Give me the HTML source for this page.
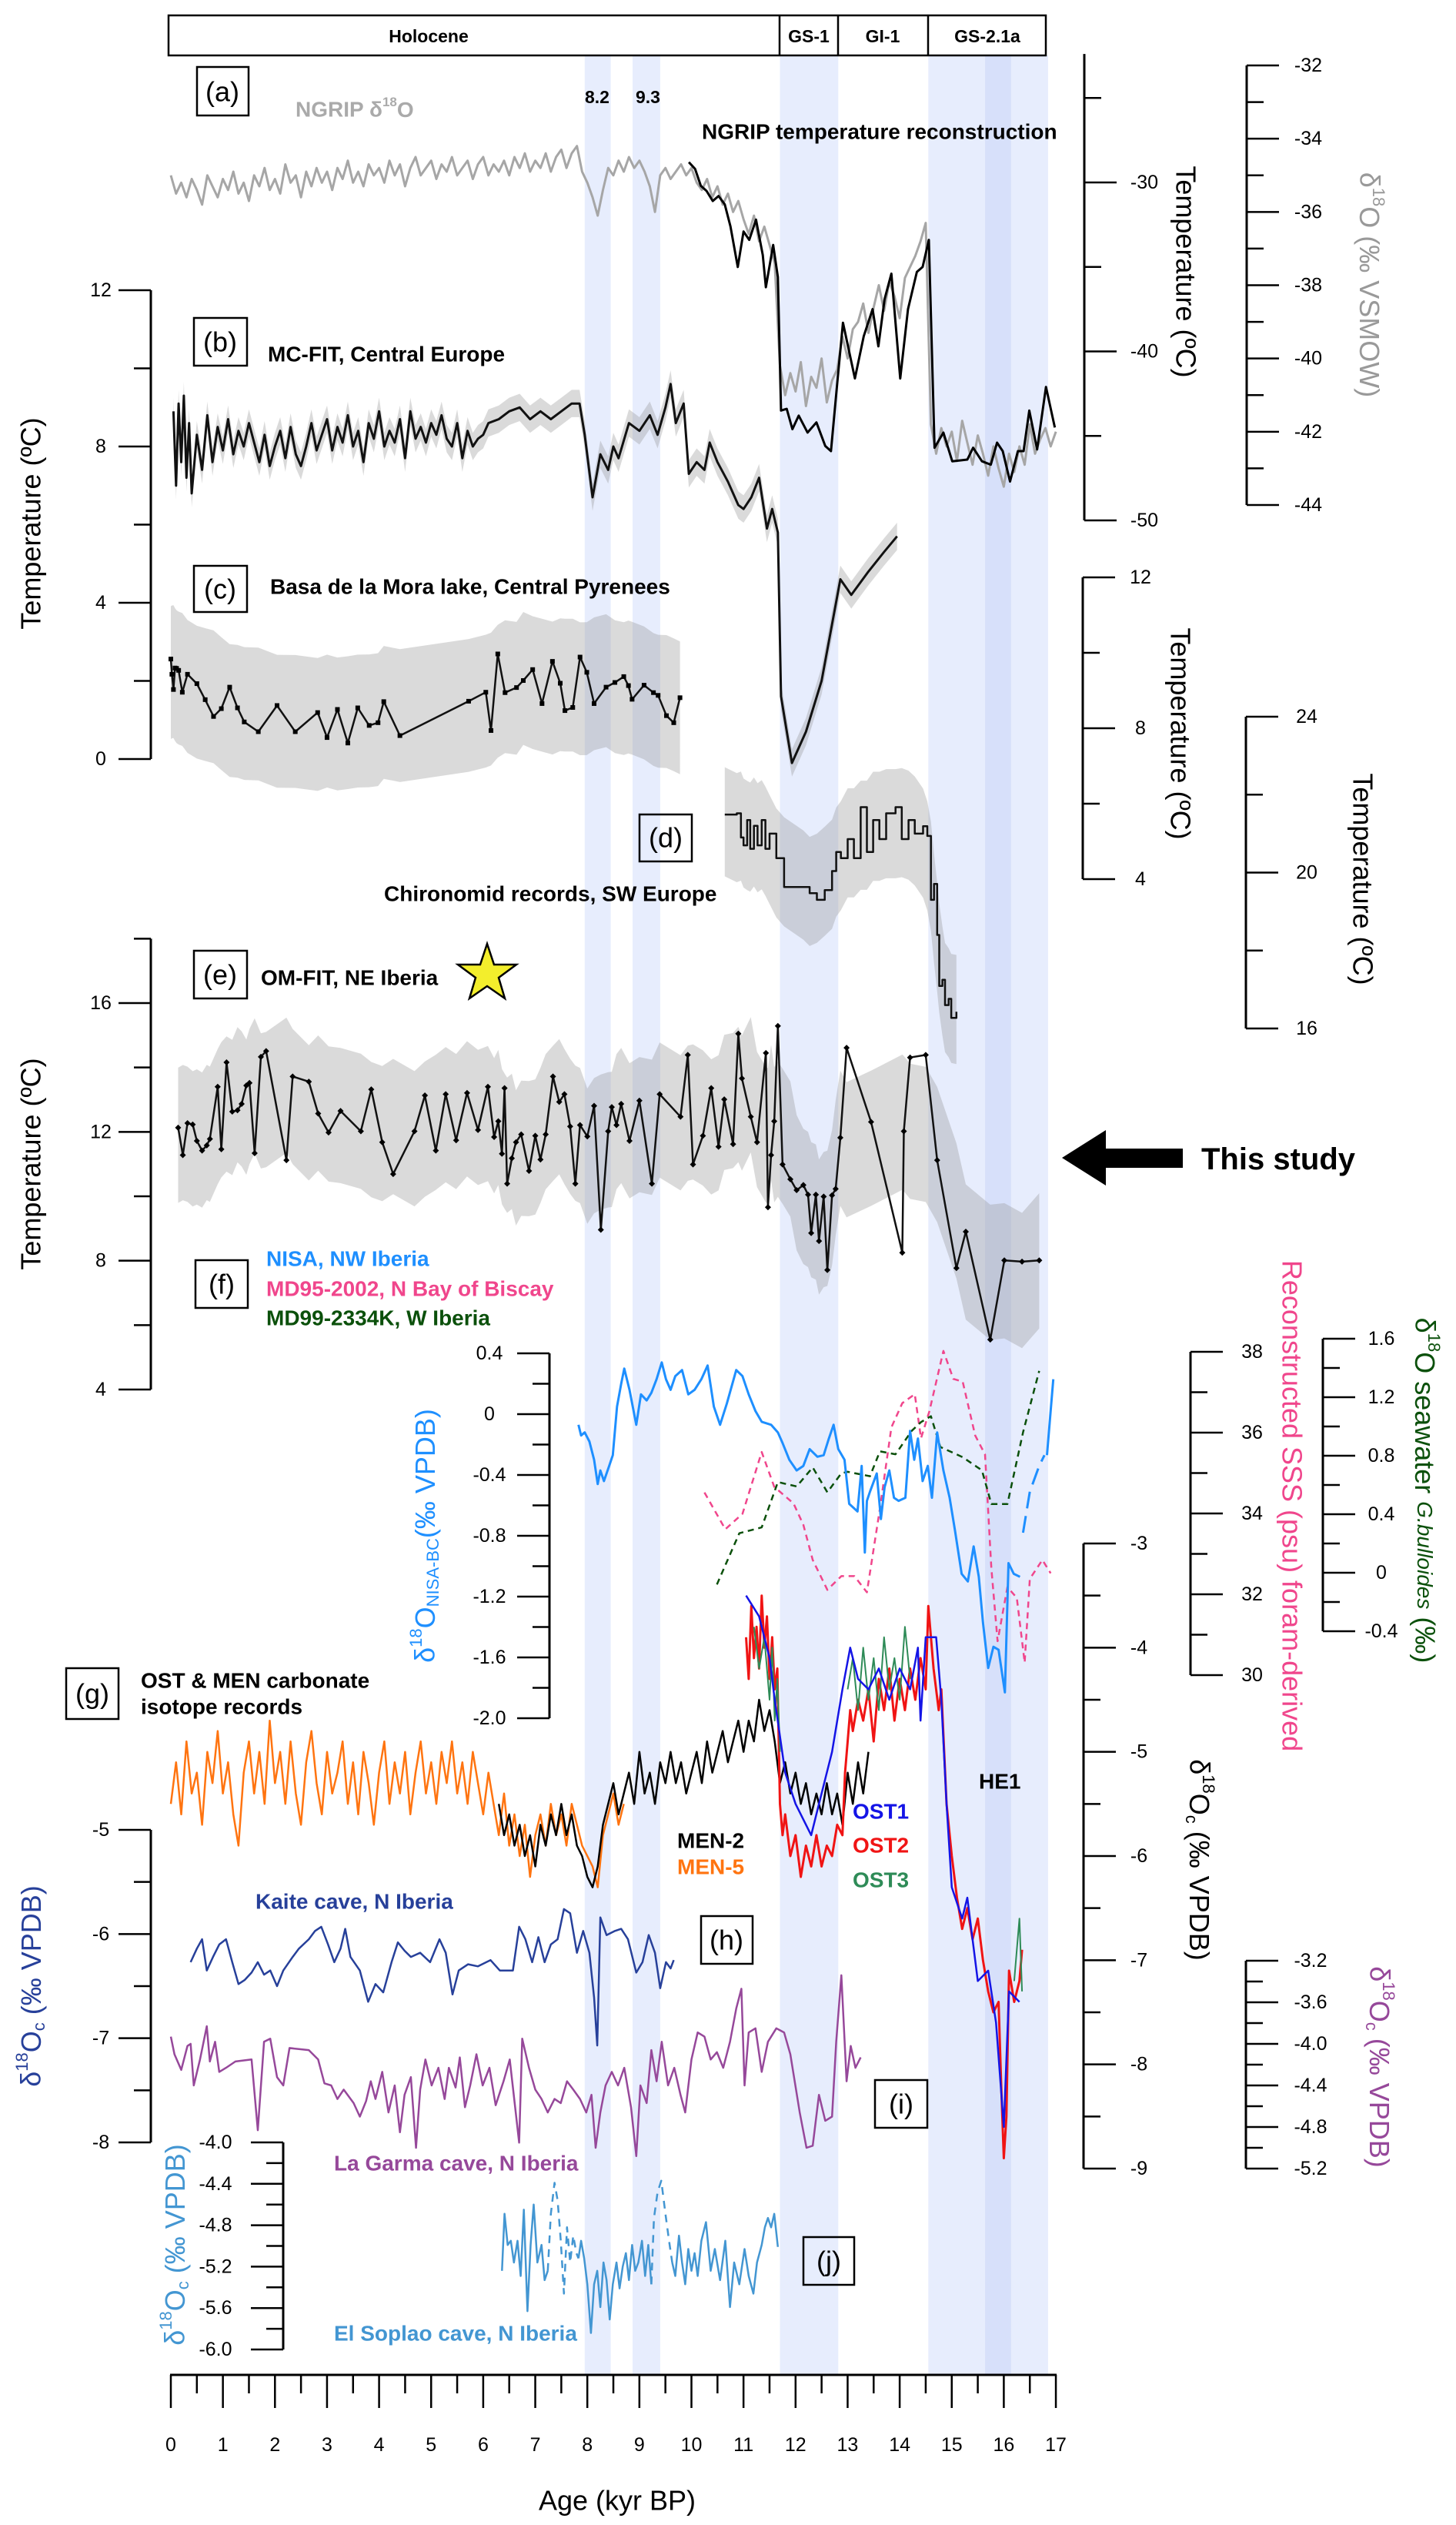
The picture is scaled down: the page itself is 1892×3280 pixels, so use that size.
<!DOCTYPE html>
<html><head><meta charset="utf-8"><style>
html,body{margin:0;padding:0;background:#fff;}
svg{display:block;font-family:"Liberation Sans",Arial,sans-serif;}
.tk{font-size:25px;fill:#000;}
.ttl{font-size:36px;}
.bl{font-size:28px;font-weight:bold;}
.sb{font-size:23px;font-weight:bold;}
.pl{font-size:36px;}
</style></head><body>
<svg id="chart" xmlns="http://www.w3.org/2000/svg" width="1892" height="3280" viewBox="0 0 1892 3280">
<g id="bg"></g>
<g id="series"></g>
<g id="axes"></g>
<g id="labels">
<rect x="219" y="20" width="1140" height="52" fill="#fff" stroke="#000" stroke-width="2.5"/>
<line x1="1013" y1="20" x2="1013" y2="72" stroke="#000" stroke-width="2.5"/>
<line x1="1089" y1="20" x2="1089" y2="72" stroke="#000" stroke-width="2.5"/>
<line x1="1206" y1="20" x2="1206" y2="72" stroke="#000" stroke-width="2.5"/>
<text x="557" y="47" class="sb" text-anchor="middle" dominant-baseline="central">Holocene</text>
<text x="1051" y="47" class="sb" text-anchor="middle" dominant-baseline="central">GS-1</text>
<text x="1147" y="47" class="sb" text-anchor="middle" dominant-baseline="central">GI-1</text>
<text x="1283" y="47" class="sb" text-anchor="middle" dominant-baseline="central">GS-2.1a</text>

<rect x="256" y="87" width="67" height="63" fill="none" stroke="#000" stroke-width="2.5"/>
<text x="289" y="119" class="pl" text-anchor="middle" dominant-baseline="central">(a)</text>
<text x="384" y="142" class="bl" fill="#aaa" dominant-baseline="central">NGRIP δ<tspan dy="-10" font-size="17">18</tspan><tspan dy="10">O</tspan></text>
<text x="760" y="126" class="sb" font-size="25" dominant-baseline="central">8.2</text>
<text x="826" y="126" class="sb" font-size="25" dominant-baseline="central">9.3</text>
<text x="912" y="171" class="bl" font-size="27" dominant-baseline="central">NGRIP temperature reconstruction</text>

<rect x="252" y="413" width="69" height="62" fill="none" stroke="#000" stroke-width="2.5"/>
<text x="286" y="444" class="pl" text-anchor="middle" dominant-baseline="central">(b)</text>
<text x="348" y="460" class="bl" dominant-baseline="central">MC-FIT, Central Europe</text>

<rect x="252" y="735" width="69" height="60" fill="none" stroke="#000" stroke-width="2.5"/>
<text x="286" y="765" class="pl" text-anchor="middle" dominant-baseline="central">(c)</text>
<text x="351" y="762" class="bl" dominant-baseline="central">Basa de la Mora lake, Central Pyrenees</text>

<rect x="831" y="1058" width="68" height="61" fill="none" stroke="#000" stroke-width="2.5"/>
<text x="865" y="1088" class="pl" text-anchor="middle" dominant-baseline="central">(d)</text>
<text x="499" y="1161" class="bl" dominant-baseline="central">Chironomid records, SW Europe</text>

<rect x="252" y="1235" width="69" height="62" fill="none" stroke="#000" stroke-width="2.5"/>
<text x="286" y="1266" class="pl" text-anchor="middle" dominant-baseline="central">(e)</text>
<text x="339" y="1270" class="bl" font-size="31" dominant-baseline="central">OM-FIT, NE Iberia</text>
<polygon points="633,1226 642,1253 671,1253 648,1270 656,1297 633,1281 610,1297 618,1270 595,1253 624,1253" fill="#f3ee2c" stroke="#000" stroke-width="2.5"/>

<polygon points="1380,1504 1437,1468 1437,1492 1537,1492 1537,1517 1437,1517 1437,1540" fill="#000"/>
<text x="1561" y="1506" font-size="40" font-weight="bold" dominant-baseline="central">This study</text>

<rect x="254" y="1637" width="68" height="62" fill="none" stroke="#000" stroke-width="2.5"/>
<text x="288" y="1668" class="pl" text-anchor="middle" dominant-baseline="central">(f)</text>
<text x="346" y="1635" class="bl" fill="#1e8fff" dominant-baseline="central">NISA, NW Iberia</text>
<text x="346" y="1674" class="bl" fill="#f0468c" dominant-baseline="central">MD95-2002, N Bay of Biscay</text>
<text x="346" y="1712" class="bl" fill="#0b500b" dominant-baseline="central">MD99-2334K, W Iberia</text>

<rect x="86" y="2167" width="68" height="66" fill="none" stroke="#000" stroke-width="2.5"/>
<text x="120" y="2200" class="pl" text-anchor="middle" dominant-baseline="central">(g)</text>
<text x="183" y="2183" class="bl" dominant-baseline="central">OST &amp; MEN carbonate</text>
<text x="183" y="2217" class="bl" dominant-baseline="central">isotope records</text>
<text x="880" y="2391" class="bl" dominant-baseline="central">MEN-2</text>
<text x="880" y="2425" class="bl" fill="#ff7410" dominant-baseline="central">MEN-5</text>
<text x="1108" y="2353" class="bl" fill="#1414e6" dominant-baseline="central">OST1</text>
<text x="1108" y="2397" class="bl" fill="#f01414" dominant-baseline="central">OST2</text>
<text x="1108" y="2442" class="bl" fill="#2e8b57" dominant-baseline="central">OST3</text>
<text x="1272" y="2314" class="bl" dominant-baseline="central">HE1</text>

<text x="332" y="2470" class="bl" fill="#27409a" dominant-baseline="central">Kaite cave, N Iberia</text>
<rect x="911" y="2489" width="67" height="62" fill="none" stroke="#000" stroke-width="2.5"/>
<text x="944" y="2520" class="pl" text-anchor="middle" dominant-baseline="central">(h)</text>
<rect x="1137" y="2702" width="68" height="62" fill="none" stroke="#000" stroke-width="2.5"/>
<text x="1171" y="2733" class="pl" text-anchor="middle" dominant-baseline="central">(i)</text>
<text x="434" y="2810" class="bl" fill="#96489a" dominant-baseline="central">La Garma cave, N Iberia</text>
<rect x="1044" y="2906" width="66" height="62" fill="none" stroke="#000" stroke-width="2.5"/>
<text x="1077" y="2937" class="pl" text-anchor="middle" dominant-baseline="central">(j)</text>
<text x="434" y="3031" class="bl" fill="#4396d2" dominant-baseline="central">El Soplao cave, N Iberia</text>

<text x="802" y="3248" class="ttl" text-anchor="middle" dominant-baseline="central">Age (kyr BP)</text>

<text transform="translate(40,680) rotate(-90)" class="ttl" text-anchor="middle" dominant-baseline="central">Temperature (ºC)</text>
<text transform="translate(40,1512) rotate(-90)" class="ttl" text-anchor="middle" dominant-baseline="central">Temperature (ºC)</text>
<text transform="translate(40,2580) rotate(-90)" class="ttl" fill="#27409a" text-anchor="middle" dominant-baseline="central">δ<tspan dy="-12" font-size="22">18</tspan><tspan dy="12">O</tspan><tspan dy="10" font-size="22">c</tspan><tspan dy="-10"> (‰ VPDB)</tspan></text>
<text transform="translate(227,2916) rotate(-90)" class="ttl" fill="#4396d2" text-anchor="middle" dominant-baseline="central">δ<tspan dy="-12" font-size="22">18</tspan><tspan dy="12">O</tspan><tspan dy="10" font-size="22">c</tspan><tspan dy="-10"> (‰ VPDB)</tspan></text>
<text transform="translate(552,1995) rotate(-90)" class="ttl" fill="#1e8fff" text-anchor="middle" dominant-baseline="central">δ<tspan dy="-12" font-size="22">18</tspan><tspan dy="12">O</tspan><tspan dy="10" font-size="22">NISA-BC</tspan><tspan dy="-10">(‰ VPDB)</tspan></text>

<text transform="translate(1541,353) rotate(90)" class="ttl" text-anchor="middle" dominant-baseline="central">Temperature (ºC)</text>
<text transform="translate(1780,370) rotate(90)" class="ttl" fill="#999" text-anchor="middle" dominant-baseline="central">δ<tspan dy="-12" font-size="22">18</tspan><tspan dy="12">O (‰ VSMOW)</tspan></text>
<text transform="translate(1534,953) rotate(90)" class="ttl" text-anchor="middle" dominant-baseline="central">Temperature (ºC)</text>
<text transform="translate(1771,1142) rotate(90)" class="ttl" text-anchor="middle" dominant-baseline="central">Temperature (ºC)</text>
<text transform="translate(1679,1956) rotate(90)" class="ttl" fill="#f0468c" text-anchor="middle" dominant-baseline="central">Reconstructed SSS (psu) foram-derived</text>
<text transform="translate(1852,1936) rotate(90)" class="ttl" fill="#0b500b" text-anchor="middle" dominant-baseline="central">δ<tspan dy="-12" font-size="22">18</tspan><tspan dy="12">O seawater </tspan><tspan font-style="italic" font-size="28">G.bulloides</tspan> (‰)</text>
<text transform="translate(1559,2416) rotate(90)" class="ttl" text-anchor="middle" dominant-baseline="central">δ<tspan dy="-12" font-size="22">18</tspan><tspan dy="12">O</tspan><tspan dy="10" font-size="22">c</tspan><tspan dy="-10"> (‰ VPDB)</tspan></text>
<text transform="translate(1793,2685) rotate(90)" class="ttl" fill="#96489a" text-anchor="middle" dominant-baseline="central">δ<tspan dy="-12" font-size="22">18</tspan><tspan dy="12">O</tspan><tspan dy="10" font-size="22">c</tspan><tspan dy="-10"> (‰ VPDB)</tspan></text>
</g>
</svg>
<script>
// ---------------- DATA ----------------
const bandStart=[7.95,8.87,11.7,14.55];
const bandEnd=[8.45,9.4,12.82,16.85];
const darkBandStart=[15.64];
const darkBandEnd=[16.14];

const ngripD18oStart=0, ngripD18oStep=0.1;
const ngripD18o=[-35.0,-35.5,-35.2,-35.6,-35.1,-35.4,-35.8,-35.0,-35.3,-35.6,
-35.1,-35.4,-34.9,-35.5,-35.2,-35.7,-35.0,-35.3,-34.8,-35.4,
-35.1,-35.5,-34.7,-35.2,-35.0,-35.6,-34.9,-35.3,-34.8,-35.2,
-34.9,-35.4,-34.8,-35.1,-34.6,-35.2,-34.9,-35.3,-34.7,-35.0,
-34.8,-35.2,-34.6,-35.0,-34.7,-35.3,-34.8,-34.5,-35.0,-34.8,
-34.6,-35.1,-34.7,-34.9,-34.5,-35.0,-34.8,-34.6,-35.1,-34.7,
-34.5,-35.0,-34.7,-34.9,-34.6,-35.0,-34.5,-34.8,-34.4,-34.9,
-34.6,-34.8,-34.4,-34.9,-34.5,-34.3,-34.8,-34.4,-34.2,-34.9,
-35.2,-35.6,-36.1,-35.4,-34.8,-35.0,-34.6,-34.9,-34.5,-34.8,
-34.6,-34.9,-35.3,-36.0,-35.0,-34.8,-35.1,-34.9,-34.7,-35.0,
-34.8,-35.2,-35.4,-35.1,-35.6,-35.3,-35.8,-35.5,-36.0,-35.7,
-36.2,-36.6,-36.1,-36.8,-36.4,-36.9,-37.4,
-40.2,-41.0,-40.4,-40.9,-40.1,-41.3,-40.5,-40.8,-40.0,-41.2,-40.6,-40.3,
-39.4,-40.0,-39.2,-39.0,-38.5,-39.3,-38.6,-38.0,-38.7,-37.9,-38.3,-38.9,-37.8,-37.5,-37.2,-36.8,-36.3,
-41.8,-42.6,-41.9,-42.4,-42.0,-42.8,-41.7,-42.3,-42.9,-42.1,-42.6,-43.2,-42.4,-43.0,-43.5,-42.6,-43.1,-42.4,-42.9,-41.8,-42.6,-42.2,-41.9,-42.4,-42.0];

const ngripTAge=[9.95,10.07,10.18,10.29,10.41,10.52,10.64,10.75,10.89,11.0,11.11,11.24,11.37,11.43,11.57,11.66,11.72,11.83,11.94,12.06,12.23,12.40,12.57,12.68,12.80,12.91,13.14,13.31,13.48,13.59,13.71,13.84,14.01,14.16,14.33,14.44,14.56,14.67,14.84,15.01,15.30,15.41,15.58,15.75,15.87,15.98,16.12,16.27,16.38,16.49,16.64,16.81,16.98];
const ngripT=[-28.8,-29.2,-30.2,-30.5,-31.1,-30.8,-31.3,-32.6,-35.0,-32.9,-33.4,-32.2,-34.3,-36.2,-33.7,-35.6,-43.5,-43.4,-44.6,-43.8,-44.8,-44.2,-45.6,-45.9,-41.9,-38.3,-41.6,-39.1,-37.5,-39.7,-36.9,-35.4,-41.6,-37.5,-35.3,-35.0,-33.4,-45.7,-44.8,-46.5,-46.4,-45.7,-46.5,-46.7,-45.4,-45.9,-47.7,-45.9,-45.9,-43.5,-45.8,-42.1,-44.5];

const mcAge=[0.05,0.1,0.15,0.2,0.25,0.3,0.35,0.4,0.5,0.6,0.7,0.8,0.9,1.0,1.1,1.2,1.3,1.4,1.5,1.6,1.7,1.8,1.9,2.0,2.1,2.2,2.3,2.4,2.5,2.6,2.7,2.8,2.9,3.0,3.1,3.2,3.3,3.4,3.5,3.6,3.7,3.8,3.9,4.0,4.1,4.2,4.3,4.4,4.5,4.6,4.7,4.8,4.9,5.0,5.1,5.2,5.3,5.4,5.5,5.6,5.7,5.8,5.9,6.0,6.1,6.3,6.5,6.7,6.9,7.1,7.3,7.5,7.7,7.85,7.95,8.1,8.25,8.4,8.5,8.6,8.8,9.0,9.2,9.35,9.5,9.6,9.7,9.85,9.95,10.1,10.25,10.35,10.5,10.7,10.9,11.0,11.15,11.3,11.45,11.55,11.66,11.72,11.93,12.2,12.5,12.86,13.07,13.4,13.7,13.95];
const mcVal=[8.9,7.0,9.1,7.6,9.3,7.2,8.6,6.8,8.3,7.4,8.8,7.6,8.5,7.9,8.7,7.8,8.4,8.0,8.6,8.1,7.6,8.3,7.5,8.0,8.4,7.7,8.5,7.8,7.5,8.0,8.6,7.9,8.3,8.7,7.9,8.5,8.1,8.8,8.0,8.4,7.6,8.6,8.2,8.9,8.0,8.4,8.1,8.7,7.7,8.9,8.2,8.5,8.1,8.6,8.3,8.8,8.2,8.0,8.6,7.7,8.4,8.0,8.2,8.3,8.6,8.7,8.9,9.0,8.7,8.9,8.7,8.9,9.1,9.1,8.3,6.7,7.8,7.4,8.0,7.7,8.6,8.4,8.8,8.3,9.0,9.6,8.6,9.1,7.3,7.6,7.4,8.1,7.6,7.1,6.5,6.4,6.7,7.2,5.9,6.4,5.8,1.6,-0.1,0.7,2.0,4.6,4.2,4.8,5.3,5.7];

const basaAge=[0.0,0.02,0.05,0.08,0.11,0.15,0.22,0.32,0.5,0.66,0.82,0.97,1.13,1.28,1.41,1.68,2.04,2.39,2.82,3.0,3.2,3.4,3.59,3.81,3.98,4.09,4.4,5.72,6.05,6.15,6.28,6.42,6.64,6.77,6.95,7.13,7.33,7.48,7.57,7.72,7.86,7.99,8.13,8.36,8.53,8.7,8.79,8.86,9.09,9.27,9.36,9.52,9.66,9.78];
const basaVal=[2.56,2.17,1.78,2.33,2.32,2.27,1.71,2.17,1.93,1.52,1.09,1.29,1.84,1.31,0.95,0.7,1.37,0.7,1.19,0.55,1.27,0.41,1.31,0.86,0.93,1.47,0.6,1.48,1.71,0.73,2.69,1.7,1.83,2.01,2.29,1.42,2.5,1.94,1.24,1.32,2.61,2.22,1.42,1.84,1.96,2.11,1.88,1.53,1.89,1.7,1.63,1.11,0.93,1.57];

const chiroAge=[10.64,10.87,10.95,11.0,11.07,11.13,11.2,11.27,11.35,11.42,11.5,11.63,11.78,12.15,12.27,12.41,12.56,12.7,12.78,12.87,13.0,13.12,13.25,13.37,13.49,13.61,13.74,13.92,14.04,14.17,14.29,14.45,14.53,14.6,14.66,14.72,14.76,14.82,14.87,14.94,14.99,15.09];
const chiroVal=[21.49,21.52,20.9,20.7,21.35,20.61,21.2,20.7,21.35,20.61,21.0,20.37,19.63,19.63,19.47,19.30,19.55,20.04,20.53,20.37,20.86,20.37,21.68,20.53,21.35,20.86,21.52,21.68,20.86,21.35,21.0,21.19,20.94,19.30,19.71,18.40,17.09,17.25,16.6,16.76,16.27,16.43];

const omAge=[0.14,0.23,0.32,0.42,0.5,0.6,0.69,0.75,0.9,0.97,1.07,1.18,1.28,1.36,1.45,1.51,1.61,1.73,1.83,2.22,2.34,2.65,2.83,3.03,3.26,3.65,3.85,4.06,4.27,4.68,4.88,5.09,5.28,5.48,5.69,5.9,6.09,6.21,6.29,6.36,6.41,6.46,6.55,6.63,6.73,6.88,7.0,7.1,7.2,7.34,7.46,7.56,7.67,7.77,7.86,8.0,8.13,8.26,8.4,8.47,8.56,8.65,8.81,9.0,9.24,9.39,9.79,9.93,10.03,10.22,10.38,10.52,10.63,10.8,10.9,10.97,11.14,11.26,11.43,11.47,11.53,11.59,11.66,11.75,11.9,12.02,12.15,12.24,12.3,12.39,12.45,12.54,12.61,12.7,12.77,12.86,12.98,13.45,14.05,14.08,14.2,14.5,14.72,15.09,15.27,15.74,16.01,16.35,16.68];
const omVal=[12.13,11.28,12.27,12.23,11.72,11.42,11.58,11.78,13.40,11.46,14.16,12.63,12.67,12.87,13.44,13.52,11.34,14.33,14.51,11.12,13.72,13.56,12.57,11.98,12.65,12.02,13.32,11.68,10.69,12.02,13.13,11.42,13.17,11.74,13.21,12.06,13.40,11.84,12.33,11.32,13.36,10.39,11.18,11.68,11.92,10.79,11.88,11.14,11.92,13.72,12.93,13.17,12.17,10.39,12.21,11.86,12.81,8.96,12.02,12.77,12.21,12.87,11.72,12.97,10.39,13.17,12.47,14.39,10.99,11.88,13.36,11.54,13.01,11.62,15.05,13.66,12.47,11.68,14.45,9.66,11.28,12.33,15.29,10.99,10.53,10.19,10.35,10.05,8.86,10.05,8.61,9.99,7.71,10.03,10.23,11.82,14.61,12.31,8.25,12.02,14.31,14.39,11.12,7.77,8.90,5.55,8.01,7.97,8.01];

const nisaAge=[7.83,7.88,7.95,8.04,8.13,8.2,8.25,8.32,8.42,8.49,8.57,8.65,8.71,8.81,8.94,9.03,9.14,9.23,9.33,9.43,9.51,9.6,9.69,9.82,9.94,10.06,10.19,10.31,10.43,10.55,10.68,10.86,10.98,11.1,11.23,11.35,11.53,11.66,11.75,11.88,12.02,12.15,12.27,12.42,12.54,12.64,12.73,12.82,12.94,13.03,13.19,13.27,13.33,13.37,13.43,13.56,13.64,13.71,13.8,13.89,13.98,14.11,14.2,14.28,14.35,14.44,14.54,14.62,14.72,14.84,14.96,15.06,15.19,15.31,15.42,15.52,15.6,15.7,15.8,15.9,16.02,16.09,16.19,16.31];
const nisaVal=[-0.07,-0.14,-0.12,-0.18,-0.30,-0.46,-0.37,-0.44,-0.34,-0.27,0.05,0.20,0.30,0.16,-0.07,0.13,0.09,0.14,0.23,0.34,0.23,0.16,0.25,0.29,0.13,0.16,0.23,0.32,0.05,-0.07,0.07,0.29,0.25,0.13,0.02,-0.05,-0.07,-0.12,-0.19,-0.30,-0.37,-0.34,-0.23,-0.28,-0.27,-0.16,-0.07,-0.23,-0.30,-0.59,-0.64,-0.34,-0.91,-0.57,-0.51,-0.39,-0.69,-0.48,-0.37,-0.55,-0.57,-0.55,-0.11,-0.30,-0.16,-0.44,-0.34,-0.55,-0.12,-0.37,-0.55,-0.76,-1.05,-1.10,-0.87,-1.07,-1.37,-1.67,-1.53,-1.55,-1.83,-0.98,-1.05,-1.07];
const nisaGapAge=[16.37,16.5,16.68,16.78];
const nisaGapVal=[-0.78,-0.51,-0.34,-0.27];
const nisaEndAge=[16.83,16.95];
const nisaEndVal=[-0.27,0.23];

const md95Age=[10.25,10.65,10.98,11.35,11.59,11.96,12.15,12.33,12.61,12.88,13.13,13.37,13.62,13.84,14.05,14.29,14.41,14.57,14.84,15.03,15.21,15.45,15.64,15.76,15.88,16.07,16.25,16.4,16.5,16.74,16.9];
const md95Sss=[34.52,33.61,33.99,35.52,34.66,34.25,33.72,32.85,32.11,32.45,32.45,32.05,34.12,36.13,36.73,36.95,35.86,36.53,38.02,37.33,37.26,35.93,35.46,32.65,30.84,32.18,31.91,30.31,32.38,32.85,32.52];

const md99Age=[10.49,10.92,11.35,11.66,12.02,12.33,12.61,12.88,13.0,13.43,13.62,13.92,14.23,14.41,14.6,14.78,15.21,15.58,15.76,16.07,16.37,16.68];
const md99Sw=[-0.08,0.27,0.31,0.62,0.59,0.72,0.55,0.68,0.69,0.66,0.83,0.81,0.97,1.03,1.07,0.86,0.79,0.70,0.47,0.47,0.96,1.38];

const men5Start=0, men5Step=0.1;
const men5=[-5.5,-5.1,-5.6,-4.9,-5.4,-5.2,-5.7,-5.0,-5.3,-4.8,-5.4,-5.1,-5.6,-5.9,-5.2,-4.9,-5.4,-5.0,-5.5,-4.7,-5.3,-5.0,-5.5,-4.9,-5.4,-5.7,-5.1,-4.8,-5.3,-5.6,-5.0,-5.4,-5.2,-4.9,-5.5,-5.1,-5.6,-5.0,-5.3,-5.7,-5.2,-4.9,-5.5,-5.1,-5.4,-5.0,-5.6,-5.2,-4.9,-5.4,-5.1,-5.5,-5.0,-5.3,-4.9,-5.4,-5.1,-5.5,-5.0,-5.3,-5.6,-5.2,-5.5,-5.8,-5.4,-5.9,-5.6,-6.0,-5.7,-6.2,-5.8,-5.6,-5.9,-5.5,-5.8,-5.6,-5.9,-5.5,-5.7,-5.9,-6.0,-6.1,-6.3,-5.8,-5.6,-5.4,-5.7,-5.5];
const men2Start=6.3, men2Step=0.1;
const men2=[-5.5,-5.8,-5.6,-5.9,-5.7,-6.0,-5.8,-6.1,-5.7,-5.9,-5.6,-5.8,-5.5,-5.8,-5.6,-5.9,-6.0,-6.2,-6.3,-6.1,-5.7,-5.5,-5.3,-5.6,-5.4,-5.2,-5.5,-5.0,-5.4,-5.2,-5.5,-5.1,-5.3,-5.0,-5.3,-5.1,-5.4,-5.2,-5.0,-5.3,-4.9,-5.2,-5.0,-4.8,-5.1,-4.9,-4.7,-5.0,-4.7,-4.9,-4.5,-4.8,-4.6,-4.9,-5.3,-5.1,-5.4,-5.2,-5.5,-5.3,-5.6,-5.4,-5.6,-5.3,-5.6,-5.4,-5.7,-5.2,-5.5,-5.1,-5.4,-5.0];

const ost2Age=[11.05,11.1,11.15,11.2,11.25,11.3,11.35,11.4,11.45,11.5,11.55,11.6,11.65,11.7,11.75,11.8,11.9,12.0,12.1,12.2,12.3,12.4,12.5,12.6,12.7,12.8,12.9,12.95,13.0,13.05,13.1,13.2,13.3,13.4,13.5,13.6,13.7,13.8,13.9,14.0,14.1,14.2,14.3,14.4,14.5,14.55,14.65,14.75,14.8,14.9,15.0,15.1,15.2,15.3,15.4,15.5,15.6,15.7,15.8,15.9,15.95,16.0,16.05,16.1,16.2,16.3,16.35];
const ost2=[-3.9,-4.3,-3.6,-4.1,-3.8,-4.2,-3.5,-4.0,-3.7,-4.3,-3.9,-4.4,-4.2,-5.5,-5.8,-5.6,-6.0,-5.8,-6.2,-5.9,-6.1,-5.8,-6.1,-5.9,-6.0,-5.7,-5.8,-5.2,-4.9,-4.6,-4.8,-4.5,-4.7,-4.4,-4.9,-4.3,-4.6,-4.2,-4.7,-4.3,-4.6,-4.2,-4.5,-4.1,-4.4,-3.6,-4.2,-4.6,-4.4,-5.5,-6.0,-6.4,-6.7,-6.5,-6.8,-6.6,-7.0,-7.3,-7.5,-7.4,-8.2,-8.9,-8.5,-7.1,-7.4,-7.2,-6.9];
const ost1Age=[11.05,11.3,11.5,11.6,11.8,12.0,12.3,12.45,12.7,12.9,13.05,13.2,13.4,13.6,13.8,14.0,14.2,14.35,14.4,14.5,14.7,14.8,14.9,15.0,15.2,15.3,15.5,15.7,15.85,16.0,16.1,16.3];
const ost1=[-3.5,-3.7,-4.1,-4.5,-5.2,-5.5,-5.8,-5.5,-5.0,-4.4,-4.0,-4.3,-4.4,-4.2,-4.5,-4.2,-4.4,-4.0,-4.7,-3.9,-3.9,-4.5,-5.5,-6.3,-6.6,-6.4,-7.2,-7.1,-7.6,-8.6,-7.3,-7.4];
const ost3Age=[11.2,11.3,11.4,11.5,11.55,11.6,11.65,11.7,null,13.0,13.1,13.2,13.3,13.4,13.5,13.6,13.7,13.8,13.9,14.0,14.1,14.2,null,16.2,16.3,16.35];
const ost3=[-3.8,-4.2,-3.9,-4.5,-4.0,-4.7,-4.3,-5.0,null,-4.4,-4.1,-4.6,-4.0,-4.5,-4.1,-4.6,-3.9,-4.4,-4.1,-4.5,-3.8,-4.3,null,-7.2,-6.6,-7.3];

const kaiteAge=[0.38,0.5,0.6,0.69,0.81,0.93,1.06,1.18,1.3,1.42,1.55,1.67,1.79,1.91,2.04,2.16,2.34,2.46,2.65,2.77,2.89,3.02,3.14,3.26,3.35,3.45,3.63,3.79,3.93,4.08,4.24,4.36,4.49,4.61,4.79,4.98,5.16,5.28,5.41,5.53,5.71,5.9,6.14,6.32,6.57,6.69,6.81,6.94,7.06,7.18,7.3,7.43,7.55,7.67,7.8,7.92,8.04,8.13,8.19,8.25,8.37,8.53,8.65,8.78,8.94,9.06,9.18,9.3,9.4,9.51,9.6,9.66];
const kaite=[-6.27,-6.14,-6.05,-6.35,-6.22,-6.10,-6.05,-6.27,-6.48,-6.44,-6.37,-6.27,-6.39,-6.35,-6.50,-6.35,-6.22,-6.14,-6.05,-5.97,-5.93,-6.10,-6.27,-6.14,-5.95,-6.22,-6.35,-6.65,-6.48,-6.56,-6.27,-6.08,-6.16,-6.22,-6.18,-6.27,-6.05,-6.18,-6.58,-6.35,-6.29,-6.31,-6.25,-6.35,-6.35,-5.93,-6.05,-6.27,-6.03,-6.27,-6.10,-6.05,-5.76,-5.80,-6.18,-5.97,-6.18,-6.61,-7.07,-5.84,-6.01,-5.97,-5.95,-6.05,-6.37,-6.27,-6.01,-6.18,-6.52,-6.27,-6.33,-6.25];

const garmaAge=[0.0,0.07,0.2,0.32,0.38,0.44,0.56,0.69,0.75,0.85,0.93,1.06,1.24,1.55,1.67,1.79,1.91,2.04,2.16,2.28,2.46,2.65,2.83,2.95,3.08,3.2,3.32,3.51,3.63,3.75,3.84,3.93,4.06,4.18,4.3,4.4,4.49,4.61,4.71,4.79,4.89,5.01,5.14,5.26,5.34,5.47,5.55,5.65,5.75,5.87,5.99,6.12,6.24,6.39,6.51,6.69,6.75,6.88,7.0,7.12,7.24,7.37,7.49,7.61,7.73,7.86,7.98,8.08,8.16,8.25,8.35,8.47,8.59,8.71,8.84,8.94,9.02,9.14,9.23,9.33,9.43,9.55,9.67,9.79,9.88,10.0,10.12,10.25,10.37,10.49,10.61,10.74,10.86,10.96,11.02,11.1,11.23,11.35,11.47,11.63,11.78,11.9,12.08,12.21,12.33,12.45,12.57,12.7,12.78,12.88,12.98,13.06,13.15,13.25];
const garma=[-3.93,-4.10,-4.25,-4.02,-4.0,-4.40,-4.15,-3.83,-4.17,-3.98,-4.27,-4.23,-4.17,-4.15,-4.83,-3.98,-3.95,-4.32,-4.40,-4.04,-4.05,-4.06,-4.15,-4.38,-4.40,-4.53,-4.44,-4.57,-4.70,-4.55,-4.36,-4.53,-4.27,-4.66,-4.40,-4.85,-4.49,-4.32,-5.0,-4.44,-4.15,-4.40,-4.23,-4.53,-4.23,-4.42,-4.13,-4.61,-4.40,-4.10,-4.40,-4.23,-4.59,-4.36,-4.15,-4.95,-3.95,-4.23,-4.44,-4.53,-4.66,-4.53,-4.57,-4.36,-4.44,-4.53,-4.66,-4.49,-5.0,-4.66,-4.40,-4.27,-4.40,-4.23,-4.61,-5.08,-4.40,-4.57,-4.06,-4.36,-3.98,-4.40,-4.23,-4.49,-4.66,-4.15,-3.89,-3.93,-4.15,-4.08,-4.23,-3.98,-3.66,-3.47,-4.40,-3.89,-3.85,-4.27,-3.98,-3.85,-3.89,-4.10,-4.66,-5.0,-4.98,-4.49,-4.74,-4.70,-3.98,-3.34,-4.36,-4.02,-4.23,-4.13];

const soplaoAge=[6.36,6.41,6.47,6.53,6.59,6.66,6.72,6.78,6.85,6.91,6.97,7.04,7.12,7.18,7.24,null,7.83,7.88,7.94,8.0,8.07,8.13,8.19,8.25,8.31,8.37,8.43,8.49,8.56,8.62,8.68,8.74,8.8,8.86,8.92,8.98,9.05,9.11,9.17,9.23,null,9.63,9.69,9.76,9.82,9.88,9.94,10.0,10.06,10.12,10.19,10.28,10.37,10.45,10.55,10.65,10.74,10.82,10.92,11.02,11.1,11.19,11.26,11.35,11.41,11.47,11.53,11.59,11.66];
const soplao=[-5.24,-4.69,-4.99,-4.95,-5.16,-4.95,-5.29,-4.65,-5.63,-4.99,-4.60,-5.16,-4.99,-5.33,-5.24,null,-5.12,-4.95,-5.12,-5.37,-5.84,-5.37,-5.24,-5.59,-5.16,-5.33,-5.71,-5.37,-5.16,-5.41,-5.20,-5.07,-5.33,-4.99,-5.24,-5.16,-4.95,-5.29,-4.99,-5.37,null,-5.16,-5.29,-4.90,-5.16,-5.37,-5.03,-5.24,-5.07,-5.29,-4.95,-4.77,-5.24,-5.03,-5.33,-4.95,-5.59,-5.16,-5.37,-5.03,-5.29,-5.46,-5.16,-4.99,-4.82,-4.73,-4.82,-4.69,-5.01];
const soplaoGapAge=[7.24,7.3,7.37,7.43,7.49,7.55,7.61,7.67,7.73,7.79,7.83,null,9.23,9.28,9.35,9.42,9.5,9.57,9.63];
const soplaoGap=[-5.24,-4.69,-4.39,-4.56,-4.95,-5.46,-4.82,-5.16,-4.90,-5.07,-5.12,null,-5.37,-4.73,-4.48,-4.37,-4.69,-4.95,-5.16];

// axis ticks
const xTicks=[0,1,2,3,4,5,6,7,8,9,10,11,12,13,14,15,16,17];
const xMinor=[0.5,1.5,2.5,3.5,4.5,5.5,6.5,7.5,8.5,9.5,10.5,11.5,12.5,13.5,14.5,15.5,16.5];

// ---------------- HELPERS ----------------
const NS='http://www.w3.org/2000/svg';
const gBg=document.getElementById('bg'), gS=document.getElementById('series'), gAx=document.getElementById('axes');
function xAge(a){return 222+a*67.65;}
function lin(v0,y0,v1,y1){return v=>y0+(v-v0)*(y1-y0)/(v1-v0);}
const yAT=lin(-30,237,-50,676), yAD=lin(-32,85,-44,656), yB=lin(12,377,0,986), yCr=lin(12,750,4,1142);
const yD=lin(24,931,16,1336), yE=lin(16,1303,4,1805), yN=lin(0,1837,-2,2232), yS=lin(38,1756,30,2176);
const yW=lin(1.6,1739,-0.4,2119), yG=lin(-3,2005,-9,2817), yH=lin(-5,2377,-8,2783), yI=lin(-3.2,2547,-5.2,2817), yJ=lin(-4,2783,-6,3052);
function mk(tag,attrs,parent){const e=document.createElementNS(NS,tag);for(const k in attrs)e.setAttribute(k,attrs[k]);parent.appendChild(e);return e;}
function idxAges(start,step,n){const a=[];for(let i=0;i<n;i++)a.push(+(start+i*step).toFixed(3));return a;}
function pathD(ages,vals,yf,step){let d='',pen=false,py=0;const n=Math.min(ages.length,vals.length);
 for(let i=0;i<n;i++){const a=ages[i],v=vals[i];if(a===null||v===null){pen=false;continue;}
  const x=xAge(a).toFixed(1),y=yf(v).toFixed(1);
  if(!pen)d+='M'+x+' '+y;else if(step)d+='L'+x+' '+py+'L'+x+' '+y;else d+='L'+x+' '+y;pen=true;py=y;}return d;}
function smooth(v,k){return v.map((_,i)=>{let s=0,c=0;for(let j=Math.max(0,i-k);j<=Math.min(v.length-1,i+k);j++){if(v[j]!==null){s+=v[j];c++;}}return s/c;});}
function bandD(ages,vals,err,yf,k){const sm=smooth(vals,k);let up=[],lo=[];for(let i=0;i<Math.min(ages.length,vals.length);i++){up.push(xAge(ages[i]).toFixed(1)+','+yf(sm[i]+err).toFixed(1));lo.push(xAge(ages[i]).toFixed(1)+','+yf(sm[i]-err).toFixed(1));}return up.concat(lo.reverse()).join(' ');}
function line(d,color,w,dash){const p=mk('path',{d:d,fill:'none',stroke:color,'stroke-width':w,'stroke-linejoin':'round'},gS);if(dash)p.setAttribute('stroke-dasharray',dash);return p;}

// ---------------- BANDS ----------------
for(let i=0;i<bandStart.length;i++){
 const r=mk('rect',{x:xAge(bandStart[i]),y:72,width:xAge(bandEnd[i])-xAge(bandStart[i]),height:3013,fill:'#e7edfd'},gBg);
 
 
}
for(let i=0;i<darkBandStart.length;i++){
 const r=mk('rect',{x:xAge(darkBandStart[i]),y:72,width:xAge(darkBandEnd[i])-xAge(darkBandStart[i]),height:3013,fill:'#d7e0fa'},gBg);
 
 
}

// ---------------- SERIES ----------------
let p;
const ngAges=idxAges(ngripD18oStart,ngripD18oStep,ngripD18o.length);
p=line(pathD(ngAges,ngripD18o,yAD),'#a6a6a6',3);


p=line(pathD(ngripTAge,ngripT,yAT),'#000',3);



p=mk('polygon',{points:bandD(mcAge,mcVal,0.35,yB,0),fill:'rgba(150,150,150,0.35)'},gS);


p=line(pathD(mcAge,mcVal,yB),'#111',3);



p=mk('polygon',{points:bandD(basaAge,basaVal,1.7,yB,3),fill:'rgba(150,150,150,0.35)'},gS);


p=line(pathD(basaAge,basaVal,yB),'#111',2.5);


for(let i=0;i<basaAge.length;i++){
 const m=mk('rect',{x:xAge(basaAge[i])-3,y:yB(basaVal[i])-3,width:6,height:6,fill:'#000'},gS);
 
 
}

p=mk('polygon',{points:bandD(chiroAge,chiroVal,1.4,yD,2),fill:'rgba(150,150,150,0.35)'},gS);


p=line(pathD(chiroAge,chiroVal,yD,true),'#111',2.5);



p=mk('polygon',{points:bandD(omAge,omVal,2.1,yE,2),fill:'rgba(150,150,150,0.35)'},gS);


p=line(pathD(omAge,omVal,yE),'#111',2.5);


for(let i=0;i<omAge.length;i++){
 const cx=xAge(omAge[i]),cy=yE(omVal[i]);
 const m=mk('polygon',{points:(cx-4)+','+cy+' '+cx+','+(cy-4)+' '+(cx+4)+','+cy+' '+cx+','+(cy+4),fill:'#000'},gS);
 
 
}

p=line(pathD(md95Age,md95Sss,yS),'#f0468c',2.5,'8,6');


p=line(pathD(md99Age,md99Sw,yW),'#0b500b',2.5,'8,6');


p=line(pathD(nisaAge,nisaVal,yN),'#1e8fff',3);


p=line(pathD(nisaGapAge,nisaGapVal,yN),'#1e8fff',3,'22,10');


p=line(pathD(nisaEndAge,nisaEndVal,yN),'#1e8fff',3);



const men5Ages=idxAges(men5Start,men5Step,men5.length);
p=line(pathD(men5Ages,men5,yG),'#ff7410',2.5);


const men2Ages=idxAges(men2Start,men2Step,men2.length);
p=line(pathD(men2Ages,men2,yG),'#000',2.5);


p=line(pathD(ost2Age,ost2,yG),'#f01414',3);


p=line(pathD(ost3Age,ost3,yG),'#2e8b57',2);


p=line(pathD(ost1Age,ost1,yG),'#1414e6',2.5);



p=line(pathD(kaiteAge,kaite,yH),'#27409a',2.5);


p=line(pathD(garmaAge,garma,yI),'#96489a',2.5);


p=line(pathD(soplaoAge,soplao,yJ),'#4396d2',2.5);


p=line(pathD(soplaoGapAge,soplaoGap,yJ),'#4396d2',2.5,'10,8');



// ---------------- AXES ----------------
function yAxis(name,x,side,yf,majors,labels,minors,lo,hi,color,lblOff){
 const ys=[yf(lo),yf(hi)];
 const l=mk('line',{x1:x,x2:x,y1:Math.min(...ys),y2:Math.max(...ys),stroke:'#000','stroke-width':3},gAx);
 
 
 const dir=side==='left'?-1:1;
 majors.forEach((v,i)=>{
  const t=mk('line',{x1:x,x2:x+dir*42,y1:yf(v),y2:yf(v),stroke:'#000','stroke-width':2.5},gAx);
  
  
  const tx=mk('text',{x:x+dir*lblOff,y:yf(v),'text-anchor':'middle','dominant-baseline':'central',class:'tk',fill:color||'#000'},gAx);
  tx.textContent=labels[i];
  
  
 });
 minors.forEach(v=>{
  const t=mk('line',{x1:x,x2:x+dir*22,y1:yf(v),y2:yf(v),stroke:'#000','stroke-width':2.5},gAx);
  
  
 });
}
yAxis('axis-a-temp',1409,'right',yAT,[-30,-40,-50],['-30','-40','-50'],[-25,-35,-45],-22.4,-50,null,78);
yAxis('axis-a-d18o',1620,'right',yAD,[-32,-34,-36,-38,-40,-42,-44],['-32','-34','-36','-38','-40','-42','-44'],[-33,-35,-37,-39,-41,-43],-32,-44,null,80);
yAxis('axis-bc-temp',196,'left',yB,[12,8,4,0],['12','8','4','0'],[10,6,2],12,0,null,65);
yAxis('axis-c-temp',1407,'right',yCr,[12,8,4],['12','8','4'],[10,6],12,4,null,75);
yAxis('axis-d-temp',1619,'right',yD,[24,20,16],['24','20','16'],[22,18],24,16,null,79);
yAxis('axis-e-temp',196,'left',yE,[16,12,8,4],['16','12','8','4'],[18,14,10,6],18,4,null,65);
yAxis('axis-nisa',714,'left',yN,[0.4,0,-0.4,-0.8,-1.2,-1.6,-2.0],['0.4','0','-0.4','-0.8','-1.2','-1.6','-2.0'],[0.2,-0.2,-0.6,-1.0,-1.4,-1.8],0.4,-2.0,null,78);
yAxis('axis-sss',1547,'right',yS,[38,36,34,32,30],['38','36','34','32','30'],[37,35,33,31],38,30,null,80);
yAxis('axis-seawater',1719,'right',yW,[1.6,1.2,0.8,0.4,0,-0.4],['1.6','1.2','0.8','0.4','0','-0.4'],[1.4,1.0,0.6,0.2,-0.2],1.6,-0.4,null,76);
yAxis('axis-g',1408,'right',yG,[-3,-4,-5,-6,-7,-8,-9],['-3','-4','-5','-6','-7','-8','-9'],[-3.5,-4.5,-5.5,-6.5,-7.5,-8.5],-3,-9,null,72);
yAxis('axis-h',196,'left',yH,[-5,-6,-7,-8],['-5','-6','-7','-8'],[-5.5,-6.5,-7.5],-5,-8,null,65);
yAxis('axis-i',1619,'right',yI,[-3.2,-3.6,-4.0,-4.4,-4.8,-5.2],['-3.2','-3.6','-4.0','-4.4','-4.8','-5.2'],[-3.4,-3.8,-4.2,-4.6,-5.0],-3.2,-5.2,null,84);
yAxis('axis-j',368,'left',yJ,[-4.0,-4.4,-4.8,-5.2,-5.6,-6.0],['-4.0','-4.4','-4.8','-5.2','-5.6','-6.0'],[-4.2,-4.6,-5.0,-5.4,-5.8],-4,-6,null,88);

const xl=mk('line',{x1:xAge(0)-1,x2:xAge(17)+1,y1:3085,y2:3085,stroke:'#000','stroke-width':3},gAx);


xTicks.forEach(v=>{
 const t=mk('line',{x1:xAge(v),x2:xAge(v),y1:3085,y2:3128,stroke:'#000','stroke-width':2.5},gAx);
 
 
 const tx=mk('text',{x:xAge(v),y:3176,'text-anchor':'middle','dominant-baseline':'central',class:'tk'},gAx);
 tx.textContent=String(v);
 
 
});
xMinor.forEach(v=>{
 const t=mk('line',{x1:xAge(v),x2:xAge(v),y1:3085,y2:3109,stroke:'#000','stroke-width':2.5},gAx);
 
 
});
</script>
</body></html>
